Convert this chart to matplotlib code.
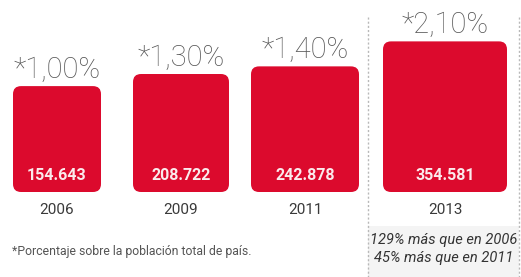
import matplotlib
matplotlib.use("Agg")
import matplotlib.pyplot as plt
from matplotlib.patches import FancyBboxPatch, Rectangle

# ---- data ----
years = ["2006", "2009", "2011", "2013"]
people = [154643, 208722, 242878, 354581]
people_labels = ["154.643", "208.722", "242.878", "354.581"]
pct_labels = ["*1,00%", "*1,30%", "*1,40%", "*2,10%"]
footnote = "*Porcentaje sobre la población total de país."
note_lines = ["129% más que en 2006", "45% más que en 2011"]

# ---- layout (pixel-based x, value-based y) ----
W, H = 521, 277
centers = [57, 181, 305, 445]
widths = [88, 96, 108, 124]
BASE = -318700.0   # value at bar bottom
PX = 4470.0        # value units per pixel vertically
BASE_PX = 192      # pixel row of bar bottoms

def ypx(p):
    """pixel row -> data y"""
    return BASE + (BASE_PX - p) * PX

RED = "#DC0A2D"
plt.rcParams["font.family"] = ["Roboto", "DejaVu Sans"]

fig = plt.figure(figsize=(W / 100, H / 100), dpi=100)
ax = fig.add_axes([0, 0, 1, 1])
ax.set_xlim(0, W)
ax.set_ylim(ypx(H), ypx(0))
ax.axis("off")

# light gray note box
ax.add_patch(Rectangle((368, ypx(H)), 151, ypx(226) - ypx(H),
                       facecolor="#f4f4f4", edgecolor="none", zorder=0))
# dashed separators
for x in (368, 519):
    ax.plot([x, x], [ypx(17), ypx(H)], color="#b8b8b8", lw=1,
            ls=(0, (1.5, 1.5)), zorder=1)

for c, w, v, vl, pl, yr in zip(centers, widths, people, people_labels,
                                pct_labels, years):
    patch = FancyBboxPatch((c - w / 2, BASE), w, v - BASE,
                           boxstyle="round,pad=0,rounding_size=8",
                           mutation_aspect=PX, facecolor=RED,
                           edgecolor="none", zorder=2)
    ax.add_patch(patch)
    ax.text(c, ypx(176), vl, ha="center", va="center", color="#fbeaec",
            fontsize=11.5, fontweight="bold", zorder=3)
    ax.text(c, v + 8 * PX, pl, ha="center", va="baseline", color="#555555",
            fontsize=21, fontweight="light", zorder=3)
    ax.text(c, ypx(210), yr, ha="center", va="center", color="#3a3a3a",
            fontsize=11, zorder=3)

ax.text(12, ypx(251), footnote, ha="left", va="center", color="#555555",
        fontsize=8.8)
ax.text(444, ypx(240), note_lines[0], ha="center", va="center",
        color="#333333", fontsize=10.5, style="italic")
ax.text(444, ypx(258), note_lines[1], ha="center", va="center",
        color="#333333", fontsize=10.5, style="italic")

fig.savefig("out.png", dpi=100)
